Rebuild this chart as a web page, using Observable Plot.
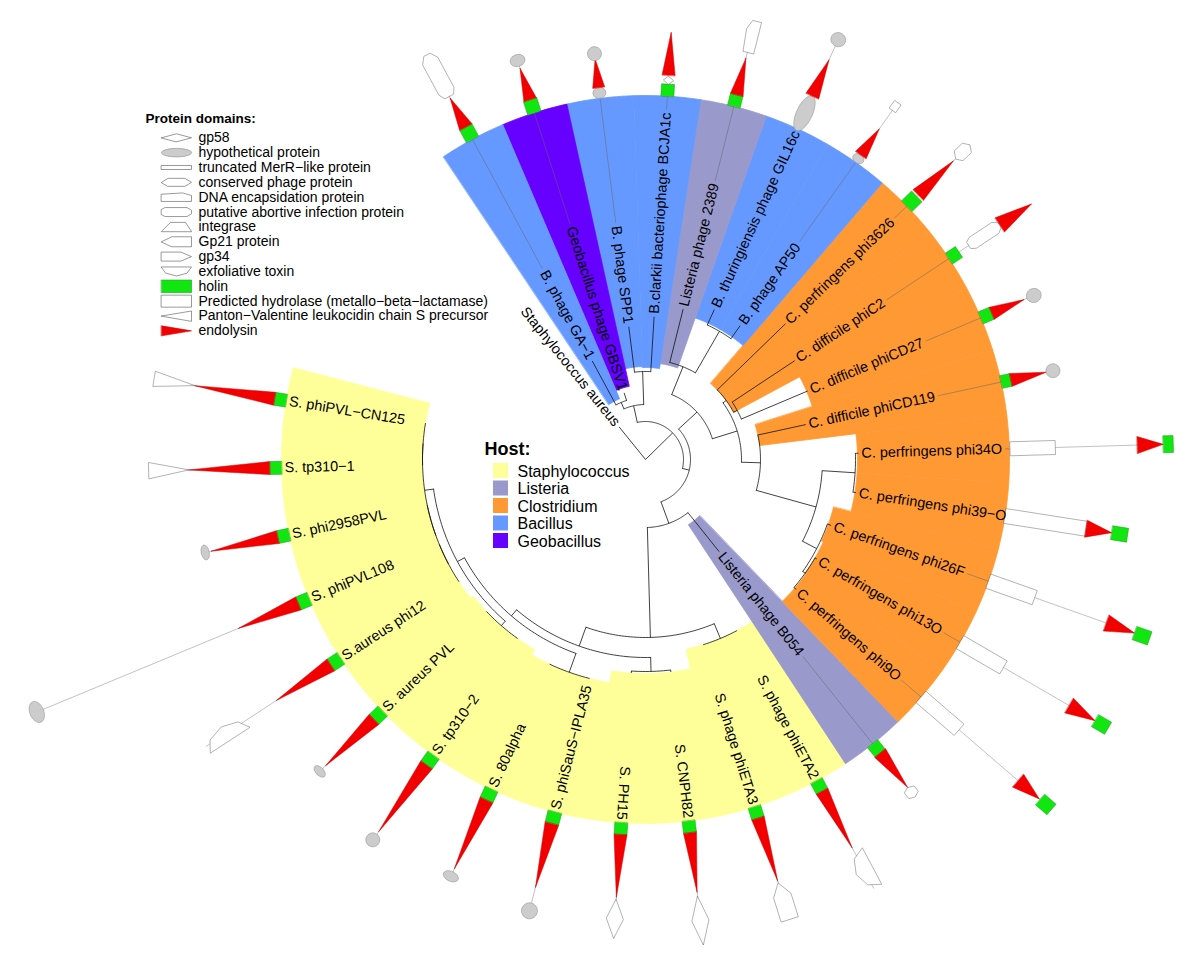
<!DOCTYPE html>
<html><head><meta charset="utf-8">
<script src="https://cdn.jsdelivr.net/npm/d3@7"></script>
<script src="https://cdn.jsdelivr.net/npm/@observablehq/plot@0.6"></script>
<style>body{margin:0;background:#fff}#chart svg{display:block}</style>
</head><body><div id="chart"></div>
<script>
// ---------------- DATA ----------------
const tipNames = ["S. phiPVL−CN125","S. tp310−1","S. phi2958PVL","S. phiPVL108","S.aureus phi12","S. aureus PVL","S. tp310−2","S. 80alpha","S. phiSauS−IPLA35","S. PH15","S. CNPH82","S. phage phiETA3","S. phage phiETA2","Listeria phage B054","C. perfringens phi9O","C. perfringens phi13O","C. perfringens phi26F","C. perfringens phi39−O","C. perfringens phi34O","C. difficile phiCD119","C. difficile phiCD27","C. difficile phiC2","C. perfringens phi3626","B. phage AP50","B. thuringiensis phage GIL16c","Listeria phage 2389","B.clarkii bacteriophage BCJA1c","B. phage SPP1","Geobacillus phage GBSV1","B. phage GA−1","Staphylococcus aureus"];
const tipHosts = ["Staphylococcus","Staphylococcus","Staphylococcus","Staphylococcus","Staphylococcus","Staphylococcus","Staphylococcus","Staphylococcus","Staphylococcus","Staphylococcus","Staphylococcus","Staphylococcus","Staphylococcus","Listeria","Clostridium","Clostridium","Clostridium","Clostridium","Clostridium","Clostridium","Clostridium","Clostridium","Clostridium","Bacillus","Bacillus","Listeria","Bacillus","Bacillus","Geobacillus","Bacillus",null];
const tipParents = ["nS12","nS12","nS345","nS45","nS45","nSJ","nSJ","nSH","nSH","nSF","nSF","nSD","nSD","nSL","nP2","nP2","nP3","nP34","nP34","nC1","nC2","nC2","nCd","nGA","nGA","nLB","nSB","nSB","nGG","nGG","n0"];
const tipDepth = [223,223,223,223,223,220,220,226,226,214,214,194,194,118,199,198,197,213,213,164,176,179,195,164,165,155,143,134,70,112,42];
const wedgeInner = [223,223,223,223,223,220,220,226,226,214,214,194,194,78,197,196,194,212,212,115,175,100,100,150,150,97,92,93,75,66,null];
const labelModes = ["edge","edge","edge","edge","edge","edge","edge","edge","edge","edge","edge","edge","edge","tip","tip","tip","tip","tip","tip","tip","tip","tip","tip","tip","tip","tip","tip","tip","tip","tip","tip"];

const nodeIds     = ["n0","n1","nTop","nGG","nSB","nR","nBC","nLB","nGA","nC0","nCd","nC2","nC1","nC2b","nP3","nP2","nP34","nSL","nS0","nSA","nSE","nSG","nSI","nS12","nS345","nS45","nSJ","nSH","nSF","nSD"];
const nodeParents = [null,"n0","n1","nTop","nTop","n1","nR","nBC","nLB","nBC","nC0","nCd","nC0","nC1","nC2b","nP3","nC2b","nR","nSL","nS0","nSA","nSE","nSG","nSI","nSI","nS345","nSG","nSE","nSA","nS0"];
const nodeDepth   = [0,38,55,62,88,45,70,100,148,96,100,104,115,177,193,196,210,68,178,198,206,214,223,223,223,223,220,226,212,194];

const hostNames  = ["Staphylococcus","Listeria","Clostridium","Bacillus","Geobacillus"];
const hostColors = ["#ffff99","#9999cc","#ff9933","#6699ff","#6600ff"];

const domainKeys   = ["gp58","hypo","merR","conserved","dna","abortive","integrase","gp21","gp34","exfol","holin","hydro","pvl","endo"];
const domainLabels = ["gp58","hypothetical protein","truncated MerR−like protein","conserved phage protein","DNA encapsidation protein","putative abortive infection protein","integrase","Gp21 protein","gp34","exfoliative toxin","holin","Predicted hydrolase (metallo−beta−lactamase)","Panton−Valentine leukocidin chain S precursor","endolysin"];

// gene glyphs per tip: [tip index, domain, start radius, end radius, width]
const genes = [
 [0,"holin",364,376,13],[0,"endo",376,457,13],[0,"pvl",457,498,15],
 [1,"holin",364,376,13],[1,"endo",376,457,13],[1,"pvl",457,497,16],
 [2,"holin",364,376,13],[2,"endo",376,444,13],[2,"hypo",446,454,15],
 [3,"holin",364,376,14],[3,"endo",376,441,14],[3,"hypo",652,666,22],
 [4,"holin",364,376,14],[4,"endo",376,441,14],[4,"exfol",478,525,16],
 [5,"holin",364,376,14],[5,"endo",376,443,14],[5,"hypo",447,455,14],
 [6,"holin",364,376,14],[6,"endo",376,458,14],[6,"hypo",461,475,14],
 [7,"holin",364,376,14],[7,"endo",376,452,14],[7,"hypo",455,465,16],
 [8,"holin",364,376,14],[8,"endo",376,442,14],[8,"hypo",458,474,16],
 [9,"holin",364,376,13],[9,"endo",376,439,13],[9,"gp58",441,480,17],
 [10,"holin",364,376,13],[10,"endo",376,436,13],[10,"gp58",440,489,17],
 [11,"holin",364,376,13],[11,"endo",376,442,13],[11,"gp21",444,482,18],
 [12,"holin",364,376,13],[12,"endo",376,440,13],[12,"exfol",445,486,18],
 [13,"holin",364,376,13],[13,"endo",376,420,14],[13,"conserved",420,432,12],
 [14,"hydro",364,414,15],[14,"endo",492,520,17],[14,"holin",521,536,14],
 [15,"hydro",364,414,15],[15,"endo",490,520,17],[15,"holin",520,535,14],
 [16,"hydro",364,413,15],[16,"endo",489,519,17],[16,"holin",519,535,14],
 [17,"hydro",364,446,15],[17,"endo",446,472,17],[17,"holin",472,488,14],
 [18,"hydro",365,410,14],[18,"endo",492,518,17],[18,"holin",518,528,17],
 [19,"holin",364,374,13],[19,"endo",374,410,13],[19,"hypo",410,424,14],
 [20,"holin",364,376,13],[20,"endo",376,411,13],[20,"hypo",414,429,14],
 [21,"holin",364,376,13],[21,"abortive",388,425,13],[21,"endo",425,463,17],
 [22,"holin",364,378,15],[22,"endo",380,429,15],[22,"conserved",432,452,13],
 [23,"hypo",364,373,12],[23,"endo",373,405,13],[23,"hydro",428,437,8],
 [24,"hypo",362,400,16],[24,"endo",400,440,14],[24,"hypo",455,469,15],
 [25,"holin",364,376,13],[25,"endo",376,414,13],[25,"dna",420,452,13],
 [26,"holin",364,376,13],[26,"gp58",376,384,10],[26,"endo",385,428,13],
 [27,"hypo",364,375,13],[27,"endo",375,404,12],[27,"hypo",402,416,14],
 [28,"holin",364,378,14],[28,"endo",378,411,13],[28,"hypo",413,425,15],
 [29,"holin",364,378,14],[29,"endo",378,411,14],[29,"abortive",413,460,17]
];

// ---------------- LAYOUT / STYLE ----------------
const W = 1200, H = 965, CX = 645, CY = 459, RING = 364;
const FONT = '"Liberation Sans", Arial, Helvetica, sans-serif';
const LABEL_SIZE = 14.4;
const ellipse = d3.range(28).map(k => { const f = k / 28 * 2 * Math.PI; return [0.5 + 0.5 * Math.cos(f), 0.5 * Math.sin(f)]; });
const shapes = {
  gp58: [[0,0],[.5,-.5],[1,0],[.5,.5]],
  hypo: ellipse,
  merR: [[0,-.5],[1,-.5],[1,.5],[0,.5]],
  conserved: [[0,0],[.22,-.5],[.78,-.5],[1,0],[.78,.5],[.22,.5]],
  dna: [[0,-.35],[.7,-.5],[1,-.2],[1,.5],[0,.5]],
  abortive: [[0,-.3],[.12,-.5],[.85,-.5],[1,-.2],[1,.2],[.85,.5],[.12,.5],[0,.3]],
  integrase: [[0,.5],[.3,-.5],[.8,-.5],[1,.5]],
  gp21: [[0,0],[.35,-.5],[1,-.5],[1,.5],[.35,.5]],
  gp34: [[0,-.5],[.65,-.5],[1,0],[.65,.5],[0,.5]],
  exfol: [[0,-.5],[1,-.5],[.85,.2],[.5,.5],[.15,.2]],
  holin: [[0,-.5],[1,-.5],[1,.5],[0,.5]],
  hydro: [[0,-.5],[1,-.5],[1,.5],[0,.5]],
  pvl: [[0,0],[1,-.5],[1,.5]],
  endo: [[0,-.5],[1,0],[0,.5]]
};
const fills = {hypo:"#cccccc", holin:"#11e611", endo:"#f20000"};
const strokes = {hypo:"#888", holin:"#1a9a1a", endo:"#d00000"};
const legendH = {gp58:8,hypo:8.5,merR:4,conserved:8,dna:8.5,abortive:9,integrase:9,gp21:10,gp34:9,exfol:9,holin:12.5,hydro:12,pvl:10,endo:10};

const ang = d3.scaleLinear().domain([0, tipNames.length - 1]).range([189.3, -129]);
const HALF = Math.abs(ang(1) - ang(0)) / 2;
const rad = a => a * Math.PI / 180;
const toXY = (a, r) => [r * Math.cos(rad(a)), r * Math.sin(rad(a))];
const hostColor = h => hostColors[hostNames.indexOf(h)];

// tree structure
const nodeR = new Map(nodeIds.map((id, k) => [id, nodeDepth[k]]));
const children = new Map();
const push = (p, c) => { if (!children.has(p)) children.set(p, []); children.get(p).push(c); };
nodeIds.forEach((id, k) => { if (nodeParents[k]) push(nodeParents[k], {kind: "node", id}); });
tipNames.forEach((n, i) => push(tipParents[i], {kind: "tip", i}));
const memo = new Map();
function angleOf(item) {
  if (item.kind === "tip") return ang(item.i);
  if (memo.has(item.id)) return memo.get(item.id);
  const as = children.get(item.id).map(angleOf);
  const v = (d3.min(as) + d3.max(as)) / 2; memo.set(item.id, v); return v;
}

// wedges
const wedgePts = [];
tipNames.forEach((n, i) => {
  const rin = wedgeInner[i]; if (rin == null) return;
  const a = ang(i), fill = hostColor(tipHosts[i]), N = 12;
  for (let j = 0; j <= N; j++) { const [x, y] = toXY(a - HALF + 2 * HALF * j / N, RING); wedgePts.push({id: "w" + i, x, y, fill}); }
  for (let j = N; j >= 0; j--) { const [x, y] = toXY(a - HALF + 2 * HALF * j / N, rin); wedgePts.push({id: "w" + i, x, y, fill}); }
});

// arcs + radial branches
const arcPts = [], radials = [];
nodeIds.forEach((id, k) => {
  const as = (children.get(id) || []).map(angleOf);
  const r = nodeDepth[k];
  if (r > 0 && as.length) {
    const a0 = d3.min(as), a1 = d3.max(as), n = Math.max(2, Math.ceil(a1 - a0) + 1);
    for (let j = 0; j < n; j++) { const [x, y] = toXY(a0 + (a1 - a0) * j / (n - 1), r); arcPts.push({id, x, y}); }
  }
  if (nodeParents[k]) {
    const a = angleOf({kind: "node", id});
    const [x1, y1] = toXY(a, nodeR.get(nodeParents[k])), [x2, y2] = toXY(a, r);
    radials.push({x1, y1, x2, y2});
  }
});
tipNames.forEach((n, i) => {
  const pr = nodeR.get(tipParents[i]);
  if (tipDepth[i] > pr + 0.5) {
    const [x1, y1] = toXY(ang(i), pr), [x2, y2] = toXY(ang(i), tipDepth[i]);
    radials.push({x1, y1, x2, y2});
  }
});

// labels
const ctx = document.createElement("canvas").getContext("2d");
ctx.font = `${LABEL_SIZE}px ${FONT}`;
const tw = s => ctx.measureText(s).width;
const labels = tipNames.map((name, i) => {
  const a = ang(i), na = ((a + 180) % 360 + 360) % 360 - 180;
  const flip = Math.abs(na) > 95, mode = labelModes[i];
  const r = mode === "edge" ? RING - 3 : tipDepth[i] + 3;
  const [x, y] = toXY(a, r);
  return {name, x, y, rot: flip ? a + 180 : a, flip, mode, i};
});
const leaders = [];
labels.forEach(l => {
  if (l.mode !== "tip" || wedgeInner[l.i] == null) return;
  const s = tipDepth[l.i] + 3 + tw(l.name) + 3;
  if (s < RING) { const [x1, y1] = toXY(ang(l.i), s), [x2, y2] = toXY(ang(l.i), RING); leaders.push({x1, y1, x2, y2}); }
});

// gene glyphs
const glyphPts = [], backbones = [];
genes.forEach(([t, type, r0, r1, w], g) => {
  const a = rad(ang(t)), c = Math.cos(a), s = Math.sin(a);
  shapes[type].forEach(([u, v]) => {
    const r = r0 + u * (r1 - r0), q = v * w;
    glyphPts.push({id: "g" + g, x: r * c - q * s, y: r * s + q * c, fill: fills[type] || "white", stroke: strokes[type] || "#666"});
  });
});
d3.group(genes, d => d[0]).forEach((gs, t) => {
  const far = d3.max(gs, d => d[3]);
  const [x1, y1] = toXY(ang(t), RING), [x2, y2] = toXY(ang(t), far);
  backbones.push({x1, y1, x2, y2});
});

// protein-domain legend (pixel layout)
const LX = 161, LW = 30, LY0 = 137.3, LDY = 14.85;
const legendPts = [];
domainKeys.forEach((k, i) => {
  shapes[k].forEach(([u, v]) => legendPts.push({id: "l" + i, x: LX + u * LW - CX, y: LY0 + i * LDY + v * legendH[k] - CY, fill: fills[k] || "white", stroke: strokes[k] || "#555"}));
});
const legendText = domainLabels.map((t, i) => ({t, x: 198 - CX, y: LY0 + i * LDY - CY}));
const HROW = 17.5;
const hostRows = hostNames.map((h, i) => ({h, c: hostColors[i], x1: 493 - CX, x2: 508 - CX, y1: 463 + i * HROW - CY, y2: 478 + i * HROW - CY, tx: 517 - CX, ty: 471 + i * HROW - CY}));

const textOpts = (anchor) => ({x: "x", y: "y", text: "name", rotate: "rot", textAnchor: anchor, fontSize: LABEL_SIZE, fill: "black"});

const chart = Plot.plot({
  width: W, height: H, margin: 0,
  x: {domain: [-CX, W - CX], range: [0, W], axis: null},
  y: {domain: [-CY, H - CY], range: [0, H], axis: null},
  color: {type: "identity"},
  style: {fontFamily: FONT, background: "white"},
  marks: [
    Plot.line(wedgePts, {x: "x", y: "y", z: "id", fill: "fill", stroke: "fill", strokeWidth: 0.8, curve: "linear-closed"}),
    Plot.line(arcPts, {x: "x", y: "y", z: "id", stroke: "#111", strokeWidth: 0.8}),
    Plot.link(radials, {x1: "x1", y1: "y1", x2: "x2", y2: "y2", stroke: "#111", strokeWidth: 0.8}),
    Plot.link(leaders, {x1: "x1", y1: "y1", x2: "x2", y2: "y2", stroke: "#666", strokeWidth: 0.5}),
    Plot.link(backbones, {x1: "x1", y1: "y1", x2: "x2", y2: "y2", stroke: "#999", strokeWidth: 0.6}),
    Plot.line(glyphPts, {x: "x", y: "y", z: "id", fill: "fill", stroke: "stroke", strokeWidth: 0.5, curve: "linear-closed"}),
    Plot.text(labels.filter(d => d.mode === "tip" && !d.flip), textOpts("start")),
    Plot.text(labels.filter(d => d.mode === "tip" && d.flip), textOpts("end")),
    Plot.text(labels.filter(d => d.mode === "edge" && !d.flip), textOpts("end")),
    Plot.text(labels.filter(d => d.mode === "edge" && d.flip), textOpts("start")),
    // protein domain legend
    Plot.text([{t: "Protein domains:", x: 145 - CX, y: 118 - CY}], {x: "x", y: "y", text: "t", textAnchor: "start", fontSize: 13.5, fontWeight: "bold", fill: "black"}),
    Plot.line(legendPts, {x: "x", y: "y", z: "id", fill: "fill", stroke: "stroke", strokeWidth: 0.6, curve: "linear-closed"}),
    Plot.text(legendText, {x: "x", y: "y", text: "t", textAnchor: "start", fontSize: 14, fill: "black"}),
    // host legend
    Plot.text([{t: "Host:", x: 484 - CX, y: 449 - CY}], {x: "x", y: "y", text: "t", textAnchor: "start", fontSize: 18, fontWeight: "bold", fill: "black"}),
    Plot.rect(hostRows, {x1: "x1", x2: "x2", y1: "y1", y2: "y2", fill: "c"}),
    Plot.text(hostRows, {x: "tx", y: "ty", text: "h", textAnchor: "start", fontSize: 16, fill: "black"})
  ]
});
document.getElementById("chart").append(chart);
</script></body></html>
